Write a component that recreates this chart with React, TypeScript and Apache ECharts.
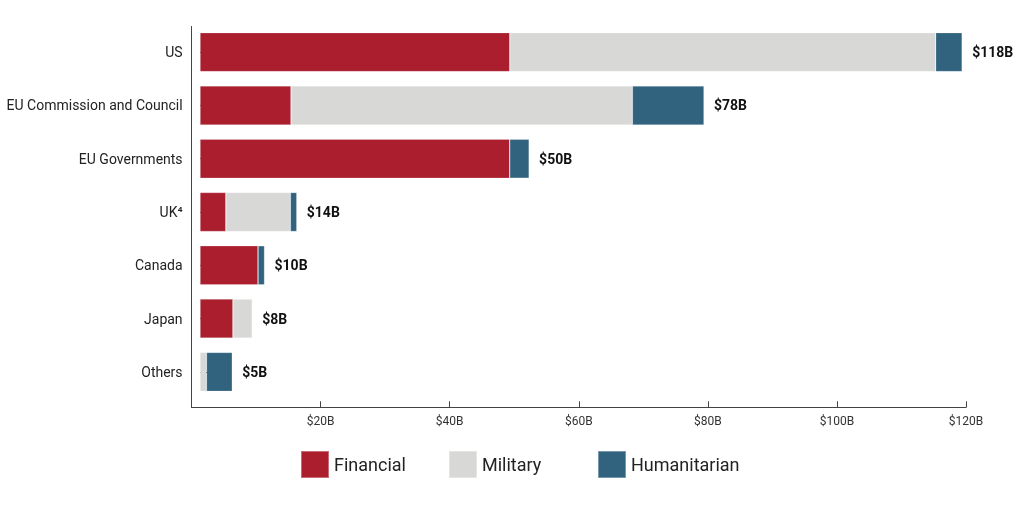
import React, { useEffect, useRef } from "react";
import * as echarts from "echarts";

const categories = ["US", "EU Commission and Council", "EU Governments", "UK⁴", "Canada", "Japan", "Others"];
const financial = [48, 14.1, 48, 4, 9, 5.1, 0];
const military = [66, 52.9, 0, 10, 0, 3, 1];
const humanitarian = [4.1, 11.1, 3, 1, 1, 0, 4];
const totalLabels = ["$118B", "$78B", "$50B", "$14B", "$10B", "$8B", "$5B"];
const xTicks = [0, 20, 40, 60, 80, 100, 120];
const seriesNames = ["Financial", "Military", "Humanitarian"];
const seriesColors = ["#AA1E2E", "#D8D8D6", "#31637F"];

const FONT = "Roboto";

export default function App() {
  const ref = useRef<HTMLDivElement>(null);
  useEffect(() => {
    if (!ref.current) return;
    const chart = echarts.init(ref.current, undefined, { renderer: "svg" });
    const sums = categories.map((_, i) => financial[i] + military[i] + humanitarian[i]);
    const frameLeft = 191.6;
    const barLeft = 200;
    const right = 58;
    const frameWidth = 1024 - right - frameLeft;
    const xMax = xTicks[xTicks.length - 1];
    const barMax = xMax * ((1024 - right - barLeft) / frameWidth);
    const barStyle = { borderColor: "rgba(255,255,255,0.35)", borderWidth: 0.6 };
    const values = [financial, military, humanitarian];
    const legendLefts = [300, 448, 597];
    chart.setOption({
      animation: false,
      textStyle: { fontFamily: FONT },
      grid: [
        { left: frameLeft, right, top: 26.5, bottom: 506 - 407.3 },
        { left: barLeft, right, top: 25.5, height: 373 },
      ],
      legend: seriesNames.map((n, i) => ({
        data: [n],
        left: legendLefts[i],
        top: 450,
        padding: 0,
        icon: "rect",
        itemWidth: 28,
        itemHeight: 27,
        textStyle: { fontSize: 18, color: "#222", fontFamily: FONT },
      })),
      xAxis: [
        {
          type: "value",
          gridIndex: 0,
          min: 0,
          max: xMax,
          interval: 20,
          axisLine: { show: true, lineStyle: { color: "#444", width: 1 } },
          axisTick: { show: true, inside: true, length: 6, lineStyle: { color: "#444" } },
          splitLine: { show: false },
          axisLabel: {
            margin: 8,
            fontSize: 12,
            color: "#333",
            fontFamily: FONT,
            formatter: (v: number) => (v === 0 ? "" : "$" + v + "B"),
          },
        },
        { type: "value", gridIndex: 1, min: 0, max: barMax, show: false },
      ],
      yAxis: [
        {
          type: "value",
          gridIndex: 0,
          axisLine: { show: true, lineStyle: { color: "#444", width: 1 } },
          axisTick: { show: false },
          axisLabel: { show: false },
          splitLine: { show: false },
        },
        {
          type: "category",
          gridIndex: 1,
          data: categories,
          inverse: true,
          offset: barLeft - frameLeft,
          axisLine: { show: false },
          axisTick: {
            show: true,
            inside: true,
            alignWithLabel: true,
            length: barLeft - frameLeft,
            lineStyle: { color: "#444" },
          },
          axisLabel: { margin: 9, fontSize: 14, color: "#222", fontFamily: FONT },
        },
      ],
      series: [
        ...seriesNames.map((n, i) => ({
          name: n,
          type: "bar",
          stack: "aid",
          xAxisIndex: 1,
          yAxisIndex: 1,
          barWidth: 39,
          data: values[i],
          itemStyle: { color: seriesColors[i], ...barStyle },
        })),
        {
          name: "Total",
          type: "bar",
          xAxisIndex: 1,
          yAxisIndex: 1,
          barWidth: 39,
          barGap: "-100%",
          silent: true,
          data: sums,
          itemStyle: { color: "rgba(0,0,0,0)" },
          label: {
            show: true,
            position: "right",
            distance: 10,
            fontSize: 14,
            fontWeight: "bold",
            color: "#111",
            fontFamily: FONT,
            formatter: (p: any) => totalLabels[p.dataIndex],
          },
        },
      ],
    });
    return () => chart.dispose();
  }, []);
  return <div ref={ref} style={{ position: "fixed", left: 0, top: 0, width: 1024, height: 506 }} />;
}
